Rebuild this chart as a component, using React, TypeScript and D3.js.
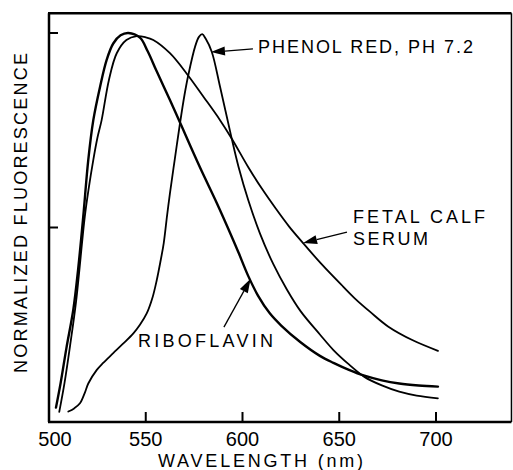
import React from 'react';
import * as d3 from 'd3';

// Riboflavin
const riboNm = [503.6, 506, 509, 512.6, 515, 517.7, 520.3, 522.9, 526.4, 529.8, 533.2, 537, 541, 547, 551, 555.6, 562.5, 567.7, 573, 578.9, 586.7, 595, 598, 603, 608, 614, 620, 630, 640, 647, 655, 663, 672, 681, 691, 701];
const riboVal = [0.037, 0.10, 0.19, 0.29, 0.39, 0.528, 0.674, 0.776, 0.862, 0.931, 0.973, 0.994, 1.0, 0.988, 0.953, 0.902, 0.828, 0.77, 0.71, 0.645, 0.563, 0.47, 0.435, 0.375, 0.325, 0.28, 0.248, 0.205, 0.17, 0.152, 0.134, 0.119, 0.107, 0.099, 0.094, 0.091];

// Fetal calf serum
const serumNm = [505.3, 508, 511, 514, 518.5, 520.5, 522.9, 525, 527.2, 531, 535, 540, 545.3, 550, 553.9, 562.5, 571.1, 580, 588.4, 594.4, 603, 610, 617, 624, 631.3, 641, 652, 658, 666, 675.4, 688, 701];
const serumVal = [0.026, 0.10, 0.20, 0.31, 0.528, 0.60, 0.674, 0.73, 0.776, 0.88, 0.948, 0.982, 0.992, 0.989, 0.982, 0.948, 0.896, 0.835, 0.776, 0.729, 0.655, 0.60, 0.55, 0.503, 0.46, 0.405, 0.348, 0.318, 0.283, 0.245, 0.21, 0.183];

// Phenol red, pH 7.2
const phenolNm = [510, 513, 516, 518.5, 520.3, 524.7, 528, 533.2, 538, 543.6, 547, 550.5, 553.5, 555.7, 557.5, 559.3, 561, 562.5, 565, 567.7, 570, 572, 575.5, 577.5, 579.2, 581, 584.1, 588.4, 594.4, 598, 603, 609, 616, 623, 630, 640, 647, 655, 663, 672, 681, 690, 701];
const phenolVal = [0.027, 0.035, 0.048, 0.075, 0.099, 0.134, 0.152, 0.177, 0.2, 0.228, 0.25, 0.279, 0.32, 0.365, 0.41, 0.46, 0.53, 0.588, 0.675, 0.768, 0.84, 0.892, 0.965, 0.99, 0.997, 0.985, 0.952, 0.862, 0.729, 0.655, 0.57, 0.485, 0.405, 0.34, 0.285, 0.225, 0.185, 0.148, 0.116, 0.094, 0.078, 0.068, 0.061];

const xTicks = [500, 550, 600, 650, 700];
const xTickLabels = ['500', '550', '600', '650', '700'];
const yTicks = [0.5, 1.0];

const FONT = '"Liberation Sans", Arial, Helvetica, sans-serif';

export default function App() {
  const x = d3.scaleLinear().domain([500, 700]).range([49, 436]);
  const y = d3.scaleLinear().domain([0, 1]).range([422, 33]);
  const xMax = 739;
  const yMax = 1.051;

  const line = d3
    .line<[number, number]>()
    .x((d) => x(d[0]))
    .y((d) => y(d[1]))
    .curve(d3.curveCatmullRom.alpha(0.5));

  const zip = (a: number[], b: number[]) => a.map((v, i) => [v, b[i]] as [number, number]);

  const series = [
    { d: zip(riboNm, riboVal), w: 2.4 },
    { d: zip(serumNm, serumVal), w: 1.8 },
    { d: zip(phenolNm, phenolVal), w: 1.8 },
  ];

  const arrow = (tail: [number, number], tip: [number, number], key: string) => {
    const x1 = x(tail[0]), y1 = y(tail[1]);
    const x2 = x(tip[0]), y2 = y(tip[1]);
    const ang = Math.atan2(y2 - y1, x2 - x1);
    const L = 14, W = 4.5;
    const bx = x2 - L * Math.cos(ang), by = y2 - L * Math.sin(ang);
    const px = -Math.sin(ang) * W, py = Math.cos(ang) * W;
    return (
      <g key={key}>
        <line x1={x1} y1={y1} x2={bx} y2={by} stroke="#000" strokeWidth={1.3} />
        <polygon points={`${x2},${y2} ${bx + px},${by + py} ${bx - px},${by - py}`} fill="#000" />
      </g>
    );
  };

  const x0 = x(500), x1 = x(xMax), yb = y(0), yt = y(yMax);

  return (
    <svg
      width={513}
      height={470}
      style={{ position: 'absolute', left: 0, top: 0, background: '#fff' }}
      fontFamily={FONT}
    >
      <rect x={0} y={0} width={513} height={470} fill="#fff" />
      {/* frame */}
      <line x1={x0} y1={yt} x2={x0} y2={yb} stroke="#000" strokeWidth={2.5} />
      <line x1={x0 - 1} y1={yb} x2={x1} y2={yb} stroke="#000" strokeWidth={2.5} />
      <line x1={x0 - 1} y1={yt} x2={x1} y2={yt} stroke="#000" strokeWidth={2.5} />
      <line x1={x1} y1={yt} x2={x1} y2={yb} stroke="#000" strokeWidth={1.5} />
      {/* ticks */}
      {xTicks.slice(1).map((t) => (
        <line key={'xt' + t} x1={x(t)} x2={x(t)} y1={yb} y2={yb - 10} stroke="#000" strokeWidth={2} />
      ))}
      {yTicks.map((t) => (
        <line key={'yt' + t} x1={x0} x2={x0 + 9} y1={y(t)} y2={y(t)} stroke="#000" strokeWidth={2} />
      ))}
      {xTicks.map((t, i) => (
        <text key={'xl' + t} x={x(t) + (i === 0 ? 6 : 0)} y={446} textAnchor="middle" fontSize={20} fill="#000">
          {xTickLabels[i]}
        </text>
      ))}
      <text x={158} y={467} fontSize={18} textLength={205} lengthAdjust="spacing" fill="#000">
        WAVELENGTH (nm)
      </text>
      <text
        transform="translate(27,373) rotate(-90)"
        x={0}
        y={0}
        fontSize={18}
        textLength={320}
        lengthAdjust="spacing"
        fill="#000"
      >
        NORMALIZED FLUORESCENCE
      </text>
      {/* curves */}
      {series.map((s, i) => (
        <path key={'s' + i} d={line(s.d) || ''} fill="none" stroke="#000" strokeWidth={s.w} strokeLinejoin="round" strokeLinecap="round" />
      ))}
      {/* annotations */}
      {arrow([605.4, 0.959], [583.7, 0.951], 'a1')}
      {arrow([654, 0.488], [631.3, 0.46], 'a2')}
      {arrow([590.4, 0.244], [604.2, 0.368], 'a3')}
      <text x={x(608)} y={53} fontSize={18} textLength={215} lengthAdjust="spacing" fill="#000">
        PHENOL RED, PH 7.2
      </text>
      <text x={x(657.1)} y={223} fontSize={18} textLength={132} lengthAdjust="spacing" fill="#000">
        FETAL CALF
      </text>
      <text x={x(657.1)} y={245} fontSize={18} textLength={75} lengthAdjust="spacing" fill="#000">
        SERUM
      </text>
      <text x={x(546)} y={347} fontSize={18} textLength={135} lengthAdjust="spacing" fill="#000">
        RIBOFLAVIN
      </text>
    </svg>
  );
}
